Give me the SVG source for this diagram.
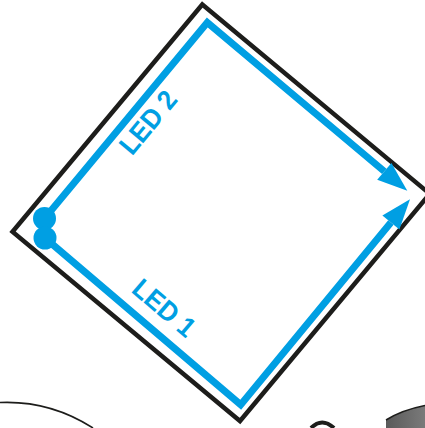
<svg xmlns="http://www.w3.org/2000/svg" width="425" height="428" viewBox="0 0 425 428">
  <style>
    .frame { fill: none; stroke: #1d1d1b; stroke-width: 4.5; stroke-linejoin: miter; }
    .led { fill: none; stroke: #009fe3; stroke-width: 7; stroke-linejoin: miter; }
    .head { fill: #009fe3; }
    .dot { fill: #009fe3; }
    .lbl { font-family: "Liberation Sans", Arial, sans-serif; font-weight: bold; font-size: 27.5px; fill: #009fe3; }
  </style>
  <rect width="425" height="428" fill="#ffffff"/>

  <!-- background partial shapes at bottom -->
  <g id="bottom-shapes">
    <path d="M0,402.5 C35,401 65,410 93,428" fill="none" stroke="#1d1d1b" stroke-width="1.6"/>
    <path d="M311,428 Q322,417 334,428" fill="none" stroke="#1d1d1b" stroke-width="4"/>
    <defs>
      <linearGradient id="g" x1="0" y1="0" x2="1" y2="0">
        <stop offset="0" stop-color="#5a5a5a"/>
        <stop offset="1" stop-color="#7a7a7a"/>
      </linearGradient>
    </defs>
    <path d="M386,428 L386,420 Q402,410 425,405.5 L425,428 Z" fill="url(#g)" stroke="none"/>
    <path d="M386,420 Q402,410 425,405.5" fill="none" stroke="#1d1d1b" stroke-width="1.5"/>
  </g>

  <!-- board outline -->
  <g id="board">
    <polygon class="frame" points="202.3,4.5 429.8,193.8 240,421 12.5,231.7"/>
  </g>

  <g id="connectors">
    <!-- LED 2 path -->
    <polyline class="led" points="44.5,218.5 207.3,22.5 384.3,171.4"/>
    <polygon class="head" points="407.3,190.7 377.2,179.8 391.4,163"/>
    <!-- LED 1 path -->
    <polyline class="led" points="45,238 240.7,404.7 390.9,222.5"/>
    <polygon class="head" points="410,199.3 399.4,229.5 382.4,215.5"/>
  </g>

  <g id="led2">
    <circle class="dot" cx="44.5" cy="218.5" r="11.5"/>
    <text class="lbl" transform="translate(132,156.5) rotate(-50.3)" x="0" y="0" textLength="73" lengthAdjust="spacingAndGlyphs">LED 2</text>
  </g>
  <g id="led1">
    <circle class="dot" cx="45" cy="238" r="11.5"/>
    <text class="lbl" transform="translate(130.2,291.4) rotate(40.4)" x="0" y="0" textLength="73" lengthAdjust="spacingAndGlyphs">LED 1</text>
  </g>
</svg>
